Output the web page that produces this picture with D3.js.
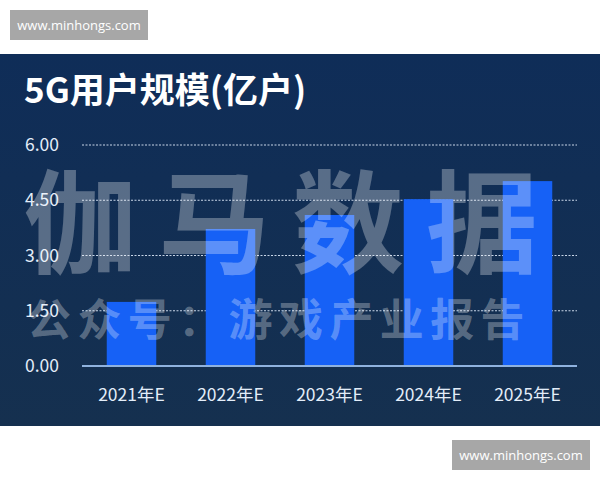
<!DOCTYPE html>
<html><head><meta charset="utf-8">
<script src="https://cdn.jsdelivr.net/npm/d3@7"></script>
<style>html,body{margin:0;padding:0;background:#fff;}svg{display:block;}</style>
</head><body>
<script>
const categories = ["2021年E","2022年E","2023年E","2024年E","2025年E"];
const values = [1.74, 3.72, 4.10, 4.53, 5.02];
const yTicks = [0, 1.5, 3, 4.5, 6];
const title = "5G用户规模(亿户)";
const watermark1 = "伽马数据";
const watermark2 = "公众号：游戏产业报告";
const siteLabel = "www.minhongs.com";

const W = 600, H = 480;
const svg = d3.select("body").append("svg").attr("width", W).attr("height", H);
const font = "'Noto Sans CJK SC','Noto Sans',sans-serif";

const defs = svg.append("defs");
const grad = defs.append("linearGradient").attr("id","bg").attr("x1",0).attr("y1",0).attr("x2",0).attr("y2",1);
grad.append("stop").attr("offset","0%").attr("stop-color","#0f2d58");
grad.append("stop").attr("offset","100%").attr("stop-color","#15304f");

svg.append("rect").attr("x",0).attr("y",54).attr("width",W).attr("height",372).attr("fill","url(#bg)");

// site labels
function siteBox(x,y){
  svg.append("rect").attr("x",x).attr("y",y).attr("width",138).attr("height",30).attr("fill","#a7a7a7");
  svg.append("text").attr("x",x+69).attr("y",y+20).attr("text-anchor","middle")
    .attr("font-family","'Open Sans',sans-serif").attr("font-size",13).attr("fill","#fff").text(siteLabel);
}
siteBox(10,10);
siteBox(452,440);

svg.append("text").attr("x",24).attr("y",103).attr("font-family",font).attr("font-weight",700)
  .attr("font-size",35).attr("fill","#fff").text(title);

const x = d3.scaleBand().domain(categories).range([82, 577]).paddingInner(0.5).paddingOuter(0.25);
const y = d3.scaleLinear().domain([0, 6]).range([366, 145]);

// gridlines
svg.append("g").selectAll("line").data(yTicks.filter(d=>d>0)).join("line")
  .attr("x1",82).attr("x2",577).attr("y1",d=>y(d)).attr("y2",d=>y(d))
  .attr("stroke","#c9d6e8").attr("stroke-width",1).attr("stroke-dasharray","2,1.5");

// y labels
svg.append("g").selectAll("text").data(yTicks).join("text")
  .attr("x",25).attr("y",d=>y(d)+6).attr("font-family",font).attr("font-size",17.5)
  .attr("fill","#e3edf9").text(d=>d3.format(".2f")(d));

// bars
svg.append("g").selectAll("rect").data(values).join("rect")
  .attr("x",(d,i)=>x(categories[i])).attr("width",x.bandwidth())
  .attr("y",d=>y(d)).attr("height",d=>y(0)-y(d)).attr("fill","#1661f6");

// baseline
svg.append("line").attr("x1",82).attr("x2",577).attr("y1",y(0)).attr("y2",y(0))
  .attr("stroke","#8fb2de").attr("stroke-width",2);

// x labels
svg.append("g").selectAll("text").data(categories).join("text")
  .attr("x",d=>x(d)+x.bandwidth()/2).attr("y",401).attr("text-anchor","middle")
  .attr("font-family",font).attr("font-size",17.5).attr("fill","#e3edf9").text(d=>d);

// watermark
const wm = svg.append("g").attr("fill","#ffffff").attr("fill-opacity",0.3)
  .attr("font-family",font).attr("font-weight",700);
wm.selectAll("text.w1").data(Array.from(watermark1)).join("text").attr("class","w1")
  .attr("x",(d,i)=>24+i*134).attr("y",265).attr("font-size",112).text(d=>d);
wm.selectAll("text.w2").data(Array.from(watermark2)).join("text").attr("class","w2")
  .attr("x",(d,i)=>27+i*50.4).attr("y",336).attr("font-size",44).text(d=>d);
</script>
</body></html>
